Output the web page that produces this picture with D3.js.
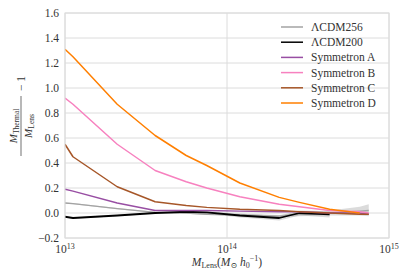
<!DOCTYPE html>
<html>
<head>
<meta charset="utf-8">
<script src="https://cdn.jsdelivr.net/npm/d3@7"></script>
<style>
  body { margin: 0; background: #fff; }
  text { font-family: "Liberation Serif", "DejaVu Serif", serif; fill: #333; }
</style>
</head>
<body>
<div id="chart"></div>
<script>
const massBins = [1.0e13, 1.12e13, 2.1e13, 3.6e13, 5.6e13, 7.5e13, 1.2e14, 2.1e14, 2.8e14, 4.3e14, 6.6e14, 7.5e14];

const lcdm256 = [0.08, 0.075, 0.035, 0.005, 0.0, -0.01, -0.015, -0.025, -0.01, 0.0, 0.015, 0.02];
const lcdm256Lo = [0.075, 0.07, 0.03, 0.0, -0.005, -0.015, -0.025, -0.035, -0.025, -0.02, -0.02, -0.025];
const lcdm256Hi = [0.085, 0.08, 0.04, 0.01, 0.005, -0.005, -0.005, -0.015, 0.005, 0.02, 0.05, 0.07];
const lcdm200 = [-0.03, -0.04, -0.02, 0.0, 0.01, 0.005, -0.02, -0.04, 0.0, -0.01, null, null];
const lcdm200Lo = [-0.035, -0.045, -0.025, -0.005, 0.005, -0.005, -0.035, -0.06, -0.02, -0.035, null, null];
const lcdm200Hi = [-0.025, -0.035, -0.015, 0.005, 0.015, 0.015, -0.005, -0.02, 0.02, 0.015, null, null];
const symA = [0.19, 0.175, 0.08, 0.02, 0.02, 0.02, 0.015, 0.01, 0.01, 0.0, 0.0, -0.01];
const symB = [0.92, 0.87, 0.55, 0.34, 0.25, 0.20, 0.13, 0.07, 0.05, 0.02, 0.01, 0.0];
const symC = [0.55, 0.45, 0.21, 0.09, 0.06, 0.045, 0.03, 0.02, 0.01, 0.0, -0.01, -0.01];
const symD = [1.31, 1.25, 0.87, 0.62, 0.46, 0.38, 0.24, 0.125, 0.085, 0.03, 0.0, null];

const yTicks = [-0.2, 0.0, 0.2, 0.4, 0.6, 0.8, 1.0, 1.2, 1.4, 1.6];
const xTicks = [1e13, 1e14, 1e15];
const xTickExp = ["13", "14", "15"];

const series = [
  {name: "\u039BCDM256", values: lcdm256, color: "#a3a3a3", width: 1.5},
  {name: "\u039BCDM200", values: lcdm200, color: "#000000", width: 1.8},
  {name: "Symmetron A", values: symA, color: "#984ea3", width: 1.5},
  {name: "Symmetron B", values: symB, color: "#f781bf", width: 1.5},
  {name: "Symmetron C", values: symC, color: "#a65628", width: 1.5},
  {name: "Symmetron D", values: symD, color: "#ff7f00", width: 1.5}
];
const bands = [
  {lo: lcdm256Lo, hi: lcdm256Hi},
  {lo: lcdm200Lo, hi: lcdm200Hi}
];

const width = 407, height = 280;
const margin = {top: 13, right: 18, bottom: 42, left: 65};

const svg = d3.select("#chart").append("svg")
  .attr("width", width).attr("height", height);

const x = d3.scaleLog().domain([1e13, 1e15]).range([margin.left, width - margin.right]);
const y = d3.scaleLinear().domain([-0.2, 1.6]).range([height - margin.bottom, margin.top]);

// grid
svg.append("g").selectAll("line").data(yTicks).enter().append("line")
  .attr("x1", x(1e13)).attr("x2", x(1e15))
  .attr("y1", d => y(d)).attr("y2", d => y(d))
  .attr("stroke", "#dcdcdc").attr("stroke-width", 1);
svg.append("g").selectAll("line").data(xTicks).enter().append("line")
  .attr("x1", d => x(d)).attr("x2", d => x(d))
  .attr("y1", y(-0.2)).attr("y2", y(1.6))
  .attr("stroke", "#dcdcdc").attr("stroke-width", 1);

// bands
svg.append("clipPath").attr("id", "clip").append("rect")
  .attr("x", x(1e13)).attr("y", y(1.6))
  .attr("width", x(1e15) - x(1e13)).attr("height", y(-0.2) - y(1.6));

const plot = svg.append("g").attr("clip-path", "url(#clip)");

bands.forEach(b => {
  const area = d3.area()
    .defined((d, i) => b.lo[i] !== null)
    .x((d, i) => x(massBins[i]))
    .y0((d, i) => y(b.lo[i]))
    .y1((d, i) => y(b.hi[i]));
  plot.append("path").datum(massBins).attr("d", area)
    .attr("fill", "#b0b0b0").attr("fill-opacity", 0.45);
});

series.forEach(s => {
  const line = d3.line()
    .defined((d, i) => s.values[i] !== null)
    .x((d, i) => x(massBins[i]))
    .y((d, i) => y(s.values[i]));
  plot.append("path").datum(massBins).attr("d", line)
    .attr("fill", "none").attr("stroke", s.color)
    .attr("stroke-width", s.width).attr("stroke-linejoin", "round");
});

// frame
svg.append("rect")
  .attr("x", x(1e13)).attr("y", y(1.6))
  .attr("width", x(1e15) - x(1e13)).attr("height", y(-0.2) - y(1.6))
  .attr("fill", "none").attr("stroke", "#dcdcdc").attr("stroke-width", 1);

// y tick labels
svg.append("g").selectAll("text").data(yTicks).enter().append("text")
  .attr("x", x(1e13) - 6).attr("y", d => y(d) + 4)
  .attr("text-anchor", "end").attr("font-size", 11.5)
  .text(d => (d < 0 ? "\u2212" : "") + Math.abs(d).toFixed(1));

// x tick labels
const xl = svg.append("g").selectAll("text").data(xTicks).enter().append("text")
  .attr("x", d => x(d)).attr("y", y(-0.2) + 15)
  .attr("text-anchor", "middle").attr("font-size", 11.5);
xl.append("tspan").text("10");
xl.append("tspan").attr("dy", -4).attr("font-size", 8).text((d, i) => xTickExp[i]);

// x label
const xlab = svg.append("text")
  .attr("x", x(1e14)).attr("y", 266).attr("text-anchor", "middle").attr("font-size", 11.5);
xlab.append("tspan").attr("font-style", "italic").text("M");
xlab.append("tspan").attr("dy", 2).attr("font-size", 8).text("Lens");
xlab.append("tspan").attr("dy", -2).text("(");
xlab.append("tspan").attr("font-style", "italic").text("M");
xlab.append("tspan").attr("dy", 2).attr("font-size", 8).text("\u2299");
xlab.append("tspan").attr("dy", -2).attr("font-style", "italic").text(" h");
xlab.append("tspan").attr("dy", 2).attr("font-size", 8).text("0");
xlab.append("tspan").attr("dy", -7).attr("font-size", 8).text("\u22121");
xlab.append("tspan").attr("dy", 5).text(")");

// y label (fraction)
const ylab = svg.append("g").attr("transform", "translate(21,126) rotate(-90)");
const num = ylab.append("text").attr("x", 0).attr("y", -4).attr("text-anchor", "middle").attr("font-size", 11);
num.append("tspan").attr("font-style", "italic").text("M");
num.append("tspan").attr("dy", 2).attr("font-size", 7.5).text("Thermal");
ylab.append("line").attr("x1", -30).attr("x2", 30).attr("y1", 0).attr("y2", 0)
  .attr("stroke", "#333").attr("stroke-width", 0.7);
const den = ylab.append("text").attr("x", 0).attr("y", 11).attr("text-anchor", "middle").attr("font-size", 11);
den.append("tspan").attr("font-style", "italic").text("M");
den.append("tspan").attr("dy", 2).attr("font-size", 7.5).text("Lens");
ylab.append("text").attr("x", 35).attr("y", 4).attr("font-size", 11.5).text("\u2212 1");

// legend
const leg = svg.append("g");
series.forEach((s, i) => {
  const ly = 27 + i * 15.2;
  leg.append("line").attr("x1", 281).attr("x2", 303).attr("y1", ly).attr("y2", ly)
    .attr("stroke", s.color).attr("stroke-width", 1.5);
  leg.append("text").attr("x", 311).attr("y", ly + 4).attr("font-size", 11.5).text(s.name);
});
</script>
</body>
</html>
